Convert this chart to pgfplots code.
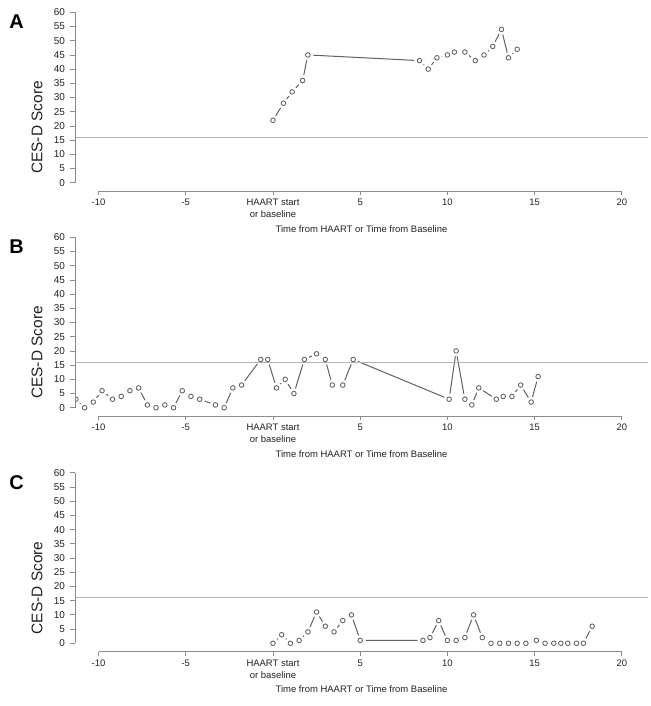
\documentclass[border=0pt]{standalone}
\usepackage{fontspec}
\setmainfont{Liberation Sans}
\usepackage{pgfplots}
\pgfplotsset{compat=1.18}
\usepackage{pgfplotstable}
\definecolor{ptgray}{HTML}{606060}
\definecolor{refgray}{HTML}{B4B4B4}
\definecolor{axgray}{HTML}{8C8C8C}
\definecolor{txt}{HTML}{222222}

\pgfplotstableread{
x y
0 22
0.6 28
1.1 32
1.7 36
2.0 45
8.4 43
8.9 40
9.4 44
10.0 45
10.4 46
11.0 46
11.6 43
12.1 45
12.6 48
13.1 54
13.5 44
14.0 47
}\dataA

\pgfplotstableread{
x y
-11.3 3
-10.8 0
-10.3 2
-9.8 6
-9.2 3
-8.7 4
-8.2 6
-7.7 7
-7.2 1
-6.7 0
-6.2 1
-5.7 0
-5.2 6
-4.7 4
-4.2 3
-3.3 1
-2.8 0
-2.3 7
-1.8 8
-0.7 17
-0.3 17
0.2 7
0.7 10
1.2 5
1.8 17
2.5 19
3.0 17
3.4 8
4.0 8
4.6 17
10.1 3
10.5 20
11.0 3
11.4 1
11.8 7
12.8 3
13.2 4
13.7 4
14.2 8
14.8 2
15.2 11
}\dataB

\pgfplotstableread{
x y
0 0
0.5 3
1.0 0
1.5 1
2.0 4
2.5 11
3.0 6
3.5 4
4.0 8
4.5 10
5.0 1
8.6 1
9.0 2
9.5 8
10.0 1
10.5 1
11.0 2
11.5 10
12.0 2
12.5 0
13.0 0
13.5 0
14.0 0
14.5 0
15.1 1
15.6 0
16.1 0
16.5 0
16.9 0
17.4 0
17.8 0
18.3 6
}\dataC

\pgfplotsset{panel/.style={
  scale only axis, width=573bp, height=181.5bp,
  anchor=south west,
  xmin=-11.35, xmax=21.5, ymin=-2.9, ymax=61,
  axis line style={draw=none},
  xtick pos=bottom, ytick pos=left, tick align=outside,
  major tick length=4.5bp,
  tick style={draw=axgray, line width=0.8pt},
  xtick={-10,-5,0,5,10,15,20},
  xticklabels={-10,-5,{HAART start\\or baseline},5,10,15,20},
  ytick={0,5,10,15,20,25,30,35,40,45,50,55,60},
  yticklabels={0,5,10,15,20,25,30,35,40,45,50,55,60},
  xticklabel style={font=\fontsize{9.5}{12.5}\selectfont, align=center, text=txt},
  yticklabel style={font=\fontsize{10}{11}\selectfont, text=txt, xshift=-2bp},
  xlabel={Time from HAART or Time from Baseline},
  xlabel style={at={(axis description cs:0.5,0)}, anchor=center, yshift=-38bp, font=\fontsize{9.5}{11}\selectfont, text=txt},
  ylabel={CES-D Score},
  ylabel style={at={(axis description cs:0,0.35)}, anchor=center, yshift=38bp, font=\fontsize{15.5}{17}\selectfont, text=txt},
  clip mode=individual, clip marker paths=true,
}}

\newcommand{\panelplots}[1]{%
  \addplot[ptgray, line width=1pt, mark=none] table {#1};
  \addplot[white, only marks, mark=*, mark size=5.3bp, mark options={draw=white, fill=white}] table {#1};
  \addplot[refgray, line width=0.8pt, mark=none] coordinates {(-11.35,16) (21.5,16)};
  \addplot[ptgray, only marks, mark=o, mark size=2.3bp, mark options={draw=ptgray, line width=0.85pt}] table {#1};
  \draw[axgray, line width=0.9pt] (axis cs:-10,-2.9) -- (axis cs:20,-2.9);
  \draw[axgray, line width=0.9pt] (axis cs:-11.35,0) -- (axis cs:-11.35,60);
}

\begin{document}
\begin{tikzpicture}
\path[use as bounding box] (0,0) rectangle (651bp,706bp);
\begin{axis}[panel, at={(75bp,515bp)}]
\panelplots{\dataA}
\end{axis}
\begin{axis}[panel, at={(75bp,290bp)}]
\panelplots{\dataB}
\end{axis}
\begin{axis}[panel, at={(75bp,54.5bp)}]
\panelplots{\dataC}
\end{axis}
\node[font=\fontsize{20}{24}\selectfont\bfseries, text=black] at (16.5bp,684.5bp) {A};
\node[font=\fontsize{20}{24}\selectfont\bfseries, text=black] at (16.5bp,459bp) {B};
\node[font=\fontsize{20}{24}\selectfont\bfseries, text=black] at (16.5bp,223bp) {C};
\end{tikzpicture}
\end{document}
